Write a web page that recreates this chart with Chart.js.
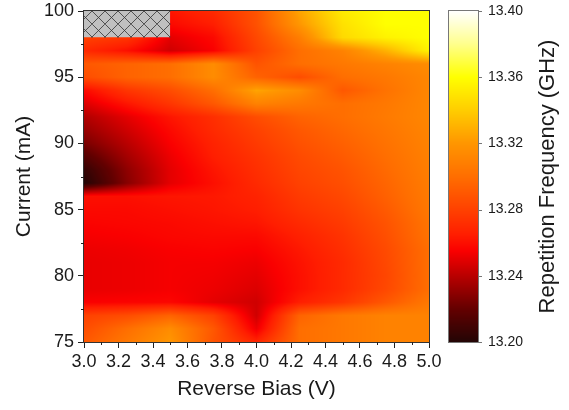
<!DOCTYPE html>
<html>
<head>
<meta charset="utf-8">
<script src="https://cdn.jsdelivr.net/npm/chart.js@4.4.1/dist/chart.umd.min.js"></script>
<style>
html, body { margin: 0; padding: 0; background: #fff; }
</style>
</head>
<body>
<canvas id="chart1" width="569" height="410"></canvas>
<script>
// grid of the measurement: columns = reverse bias (V), rows = current (mA), top row first
var bias = [3.0, 3.25, 3.5, 3.75, 4.0, 4.25, 4.5, 4.75, 5.0];
var current = [100, 99, 98, 97, 96, 95, 94, 93, 92, 91, 90, 89, 88, 87, 86, 85, 84, 83, 82, 81, 80, 79, 78, 77, 76, 75];
// repetition frequency (GHz), null = no data (hatched)
var freq = [
    [null, null, 13.262, 13.270, 13.288, 13.325, 13.352, 13.360, 13.360],
    [null, null, 13.258, 13.265, 13.287, 13.320, 13.348, 13.360, 13.360],
    [13.280, 13.275, 13.250, 13.258, 13.283, 13.308, 13.345, 13.355, 13.360],
    [13.270, 13.260, 13.245, 13.255, 13.280, 13.300, 13.310, 13.330, 13.355],
    [13.290, 13.295, 13.300, 13.315, 13.288, 13.300, 13.305, 13.310, 13.315],
    [13.285, 13.295, 13.300, 13.315, 13.295, 13.285, 13.300, 13.305, 13.312],
    [13.258, 13.275, 13.285, 13.300, 13.325, 13.315, 13.290, 13.302, 13.312],
    [13.248, 13.262, 13.275, 13.290, 13.310, 13.305, 13.300, 13.305, 13.312],
    [13.238, 13.250, 13.262, 13.272, 13.285, 13.295, 13.300, 13.306, 13.312],
    [13.232, 13.245, 13.258, 13.270, 13.280, 13.290, 13.297, 13.304, 13.311],
    [13.225, 13.240, 13.255, 13.267, 13.277, 13.287, 13.294, 13.302, 13.310],
    [13.215, 13.235, 13.252, 13.265, 13.274, 13.284, 13.291, 13.300, 13.309],
    [13.205, 13.230, 13.250, 13.262, 13.272, 13.282, 13.288, 13.298, 13.308],
    [13.200, 13.228, 13.250, 13.260, 13.270, 13.280, 13.286, 13.296, 13.307],
    [13.260, 13.260, 13.262, 13.263, 13.267, 13.277, 13.283, 13.294, 13.306],
    [13.258, 13.258, 13.260, 13.262, 13.265, 13.274, 13.280, 13.291, 13.305],
    [13.256, 13.257, 13.258, 13.260, 13.262, 13.270, 13.277, 13.288, 13.303],
    [13.254, 13.255, 13.257, 13.258, 13.258, 13.266, 13.274, 13.286, 13.302],
    [13.252, 13.253, 13.255, 13.256, 13.255, 13.263, 13.272, 13.284, 13.300],
    [13.251, 13.252, 13.254, 13.254, 13.252, 13.261, 13.270, 13.283, 13.300],
    [13.251, 13.252, 13.254, 13.253, 13.250, 13.260, 13.270, 13.282, 13.300],
    [13.251, 13.252, 13.254, 13.252, 13.248, 13.260, 13.270, 13.283, 13.300],
    [13.255, 13.256, 13.257, 13.250, 13.245, 13.265, 13.275, 13.290, 13.305],
    [13.280, 13.285, 13.295, 13.280, 13.245, 13.295, 13.305, 13.310, 13.310],
    [13.285, 13.300, 13.315, 13.290, 13.252, 13.300, 13.305, 13.310, 13.310],
    [13.290, 13.305, 13.320, 13.288, 13.268, 13.300, 13.305, 13.310, 13.310]
];

var biasTicks = [3.0, 3.2, 3.4, 3.6, 3.8, 4.0, 4.2, 4.4, 4.6, 4.8, 5.0];
var biasMinor = [3.1, 3.3, 3.5, 3.7, 3.9, 4.1, 4.3, 4.5, 4.7, 4.9];
var currentTicks = [75, 80, 85, 90, 95, 100];
var currentMinor = [77.5, 82.5, 87.5, 92.5, 97.5];
var freqTicks = [13.20, 13.24, 13.28, 13.32, 13.36, 13.40];

// colour map (black - red - orange - yellow - white)
var colorStops = [
    [13.200, [35, 5, 5]],
    [13.220, [100, 0, 0]],
    [13.240, [185, 0, 0]],
    [13.255, [250, 0, 0]],
    [13.265, [255, 30, 0]],
    [13.280, [255, 65, 0]],
    [13.300, [255, 110, 0]],
    [13.320, [255, 150, 0]],
    [13.340, [255, 205, 0]],
    [13.360, [255, 255, 0]],
    [13.380, [255, 255, 140]],
    [13.400, [255, 255, 255]]
];

Chart.defaults.font.family = '"Liberation Sans", Arial, sans-serif';
Chart.defaults.color = '#1a1a1a';

function colorFor(v) {
    var s = colorStops;
    if (v <= s[0][0]) return s[0][1];
    for (var i = 1; i < s.length; i++) {
        if (v <= s[i][0]) {
            var t = (v - s[i - 1][0]) / (s[i][0] - s[i - 1][0]);
            var a = s[i - 1][1], b = s[i][1];
            return [a[0] + (b[0] - a[0]) * t, a[1] + (b[1] - a[1]) * t, a[2] + (b[2] - a[2]) * t];
        }
    }
    return s[s.length - 1][1];
}

function findCell(arr, v) {
    // works for ascending or descending arrays
    for (var i = 0; i < arr.length - 1; i++) {
        var lo = Math.min(arr[i], arr[i + 1]), hi = Math.max(arr[i], arr[i + 1]);
        if (v >= lo && v <= hi) return i;
    }
    return -1;
}

function valueAt(v, c) {
    var i = findCell(bias, v), j = findCell(current, c);
    if (i < 0 || j < 0) return null;
    var q11 = freq[j][i], q21 = freq[j][i + 1], q12 = freq[j + 1][i], q22 = freq[j + 1][i + 1];
    if (q11 === null || q21 === null || q12 === null || q22 === null) return null;
    var tx = (v - bias[i]) / (bias[i + 1] - bias[i]);
    var ty = (c - current[j]) / (current[j + 1] - current[j]);
    var top = q11 + (q21 - q11) * tx;
    var bot = q12 + (q22 - q12) * tx;
    return top + (bot - top) * ty;
}

var heatmapPlugin = {
    id: 'heatmap',
    beforeDatasetsDraw: function(chart) {
        var ctx = chart.ctx, area = chart.chartArea;
        var xs = chart.scales.x, ys = chart.scales.y;
        var x0 = Math.round(area.left), y0 = Math.round(area.top);
        var w = Math.round(area.right) - x0, h = Math.round(area.bottom) - y0;
        var img = ctx.createImageData(w, h);
        for (var py = 0; py < h; py++) {
            var c = ys.getValueForPixel(y0 + py + 0.5);
            for (var px = 0; px < w; px++) {
                var v = xs.getValueForPixel(x0 + px + 0.5);
                var f = valueAt(v, c);
                var col = f === null ? [192, 192, 192] : colorFor(f);
                var k = (py * w + px) * 4;
                img.data[k] = col[0]; img.data[k + 1] = col[1]; img.data[k + 2] = col[2]; img.data[k + 3] = 255;
            }
        }
        ctx.putImageData(img, x0, y0);

        // hatched cells where there is no data
        for (var j = 0; j < current.length - 1; j++) {
            for (var i = 0; i < bias.length - 1; i++) {
                if (freq[j][i] !== null && freq[j][i + 1] !== null && freq[j + 1][i] !== null && freq[j + 1][i + 1] !== null) continue;
                var l = xs.getPixelForValue(bias[i]), r = xs.getPixelForValue(bias[i + 1]);
                var t = ys.getPixelForValue(current[j]), b = ys.getPixelForValue(current[j + 1]);
                ctx.save();
                ctx.beginPath();
                ctx.rect(l, t, r - l, b - t);
                ctx.clip();
                ctx.fillStyle = '#c0c0c0';
                ctx.fillRect(l, t, r - l, b - t);
                ctx.strokeStyle = '#333';
                ctx.lineWidth = 0.8;
                ctx.beginPath();
                var step = 13;
                for (var d = -200; d < 400; d += step) {
                    ctx.moveTo(area.left + d, area.top);
                    ctx.lineTo(area.left + d + 100, area.top + 100);
                    ctx.moveTo(area.left + d, area.top);
                    ctx.lineTo(area.left + d - 100, area.top + 100);
                }
                ctx.stroke();
                ctx.restore();
            }
        }
    },
    afterDatasetsDraw: function(chart) {
        var ctx = chart.ctx, area = chart.chartArea;
        var xs = chart.scales.x, ys = chart.scales.y, cs = chart.scales.c;
        ctx.save();
        // frame
        ctx.strokeStyle = '#333';
        ctx.lineWidth = 1;
        ctx.strokeRect(Math.round(area.left) - 0.5, Math.round(area.top) - 0.5,
            Math.round(area.right) - Math.round(area.left) + 1, Math.round(area.bottom) - Math.round(area.top) + 1);
        // minor ticks
        ctx.strokeStyle = '#222';
        ctx.beginPath();
        biasMinor.forEach(function(v) {
            var x = Math.round(xs.getPixelForValue(v)) + 0.5;
            ctx.moveTo(x, area.bottom);
            ctx.lineTo(x, area.bottom + 3);
        });
        currentMinor.forEach(function(c) {
            var y = Math.round(ys.getPixelForValue(c)) + 0.5;
            ctx.moveTo(area.left, y);
            ctx.lineTo(area.left - 3, y);
        });
        ctx.stroke();

        // colour bar
        var cbL = Math.round(area.right) + 20, cbW = 29;
        var top = Math.round(cs.getPixelForValue(freqTicks[freqTicks.length - 1]));
        var bot = Math.round(cs.getPixelForValue(freqTicks[0]));
        for (var y = top; y < bot; y++) {
            var col = colorFor(cs.getValueForPixel(y + 0.5));
            ctx.fillStyle = 'rgb(' + col.map(Math.round).join(',') + ')';
            ctx.fillRect(cbL, y, cbW, 1);
        }
        ctx.strokeStyle = '#777';
        ctx.strokeRect(cbL - 0.5, top - 0.5, cbW + 1, bot - top + 1);
        ctx.beginPath();
        freqTicks.forEach(function(f) {
            var y = Math.round(cs.getPixelForValue(f)) + 0.5;
            ctx.moveTo(cbL + cbW, y);
            ctx.lineTo(cbL + cbW + 4, y);
        });
        ctx.stroke();

        // colour bar title
        ctx.translate(548, (area.top + area.bottom) / 2);
        ctx.rotate(-Math.PI / 2);
        ctx.fillStyle = '#1a1a1a';
        ctx.font = '22px "Liberation Sans", Arial, sans-serif';
        ctx.textAlign = 'center';
        ctx.textBaseline = 'middle';
        ctx.fillText('Repetition Frequency (GHz)', 0, 0);
        ctx.restore();
    }
};

var ctx1 = document.getElementById('chart1').getContext('2d');
var chart1 = new Chart(ctx1, {
    type: 'scatter',
    data: { datasets: [{ data: [] }] },
    options: {
        responsive: false,
        animation: false,
        layout: { padding: { top: 11, right: 0, bottom: 0, left: 0 } },
        plugins: { legend: { display: false }, tooltip: { enabled: false } },
        scales: {
            x: {
                type: 'linear',
                min: 3.0,
                max: 5.0,
                afterBuildTicks: function(scale) { scale.ticks = biasTicks.map(function(v) { return { value: v }; }); },
                afterFit: function(scale) { scale.height = 68; scale.paddingLeft = 0; scale.paddingRight = 0; },
                ticks: {
                    autoSkip: false, maxRotation: 0, padding: 3,
                    font: { size: 18 },
                    callback: function(v) { return Number(v).toFixed(1); }
                },
                grid: { drawOnChartArea: false, tickLength: 6, color: '#222' },
                border: { display: false },
                title: { display: true, text: 'Reverse Bias (V)', font: { size: 21 }, padding: { top: 0, bottom: 8 } }
            },
            y: {
                type: 'linear',
                min: 75,
                max: 100,
                afterBuildTicks: function(scale) { scale.ticks = currentTicks.map(function(v) { return { value: v }; }); },
                afterFit: function(scale) { scale.width = 84; scale.paddingTop = 0; scale.paddingBottom = 0; },
                ticks: { autoSkip: false, padding: 4, font: { size: 18 } },
                grid: { drawOnChartArea: false, tickLength: 6, color: '#222' },
                border: { display: false },
                title: { display: true, text: 'Current (mA)', font: { size: 21 }, padding: { top: 12, bottom: 0 } }
            },
            c: {
                type: 'linear',
                axis: 'y',
                position: 'right',
                min: 13.20,
                max: 13.40,
                afterBuildTicks: function(scale) { scale.ticks = freqTicks.map(function(v) { return { value: v }; }); },
                afterFit: function(scale) { scale.width = 140; scale.paddingTop = 0; scale.paddingBottom = 0; },
                ticks: {
                    autoSkip: false, padding: 59, font: { size: 14 },
                    callback: function(v) { return Number(v).toFixed(2); }
                },
                grid: { display: false, drawTicks: false },
                border: { display: false }
            }
        }
    },
    plugins: [heatmapPlugin]
});
</script>
</body>
</html>
